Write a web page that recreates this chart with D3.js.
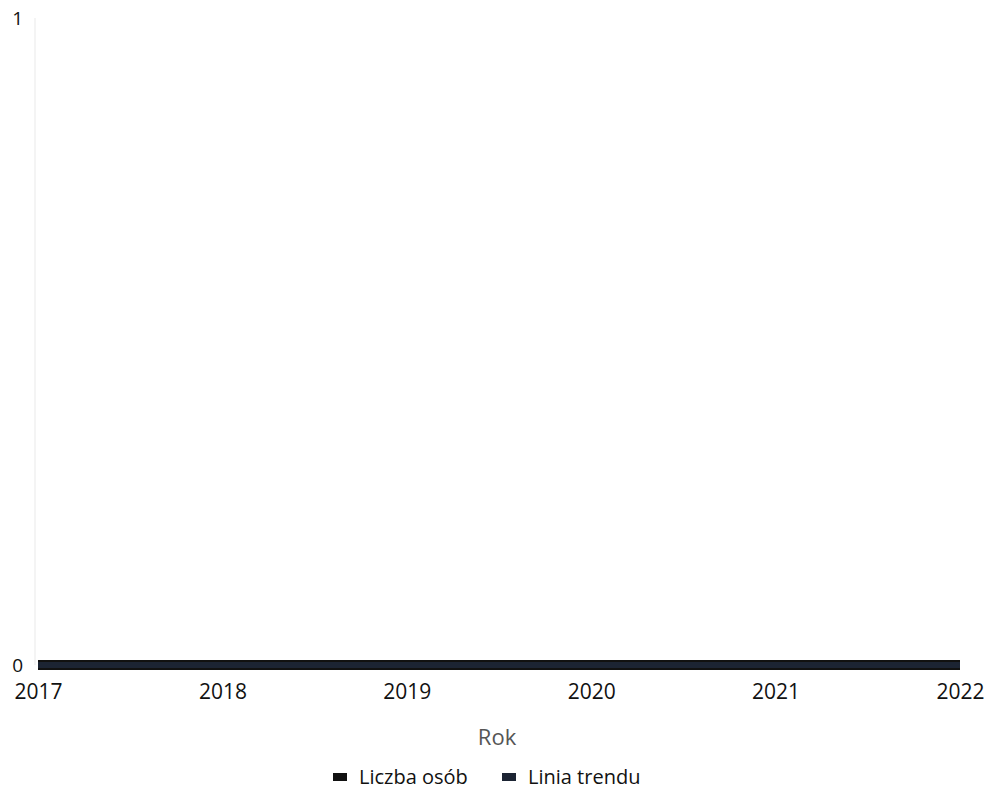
<!DOCTYPE html>
<html><head><meta charset="utf-8">
<script src="https://cdn.jsdelivr.net/npm/d3@7/dist/d3.min.js"></script>
<style>body{margin:0;background:#fff;font-family:"Open Sans",sans-serif;}</style>
</head><body><svg id="c" width="986" height="795"></svg>
<script>
const years = [2017, 2018, 2019, 2020, 2021, 2022];
const liczbaOsob = [0, 0, 0, 0, 0, 0];
const liniaTrendu = [0, 0, 0, 0, 0, 0];
const yTicks = [0, 1];
const seriesNames = ["Liczba osób", "Linia trendu"];
const seriesColors = ["#111111", "#1c2433"];

const svg = d3.select("#c");
const m = {left: 38, right: 26, top: 18, bottom: 130};
const W = 986, H = 795;
const x = d3.scaleLinear().domain([2017, 2022]).range([m.left, W - m.right]);
const y = d3.scaleLinear().domain([0, 1]).range([H - m.bottom, m.top]);

// faint y axis line
svg.append("line").attr("x1", 35).attr("x2", 35).attr("y1", y(1)).attr("y2", y(0))
  .attr("stroke", "#f4f4f4").attr("stroke-width", 2);

// y tick labels
const ya = svg.append("g").attr("transform", `translate(${m.left - 12},0)`)
  .call(d3.axisLeft(y).tickValues(yTicks).tickFormat(d3.format("d")).tickSize(0));
ya.select(".domain").remove();
ya.selectAll("text").attr("font-family", "Open Sans").attr("font-size", 19).attr("fill", "#111");

// x tick labels
const xa = svg.append("g").attr("transform", `translate(0,${y(0) + 16})`)
  .call(d3.axisBottom(x).tickValues(years).tickFormat(d3.format("d")).tickSize(0));
xa.select(".domain").remove();
xa.selectAll("text").attr("font-family", "Open Sans").attr("font-size", 21).attr("fill", "#111");

// axis title
svg.append("text").attr("x", 497).attr("y", 745)
  .attr("text-anchor", "middle").attr("font-family", "Open Sans").attr("font-size", 22)
  .attr("fill", "#555").text("Rok");

// lines
const line = d3.line().x((d, i) => x(years[i])).y(d => y(d));
svg.append("path").datum(liczbaOsob).attr("d", line).attr("fill", "none")
  .attr("stroke", seriesColors[0]).attr("stroke-width", 10);
svg.append("path").datum(liniaTrendu).attr("d", line).attr("fill", "none")
  .attr("stroke", seriesColors[1]).attr("stroke-width", 6);

// legend
const leg = [{x: 333, tx: 359}, {x: 502, tx: 528}];
seriesNames.forEach((n, i) => {
  svg.append("rect").attr("x", leg[i].x).attr("y", 773).attr("width", 14).attr("height", 8)
    .attr("fill", seriesColors[i]);
  svg.append("text").attr("x", leg[i].tx).attr("y", 784).attr("font-family", "Open Sans")
    .attr("font-size", 20).attr("font-weight", 500).attr("fill", "#111").text(n);
});
</script></body></html>
